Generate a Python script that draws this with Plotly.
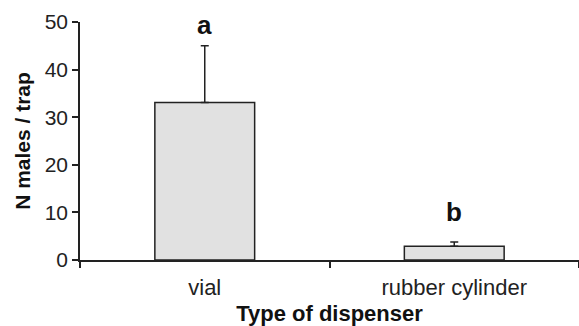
import plotly.graph_objects as go

categories = ["vial", "rubber cylinder"]
means = [33.1, 2.9]
errors_up = [11.9, 0.9]
letters = ["a", "b"]
letter_y = [49.4, 10.1]
y_ticks = [0, 10, 20, 30, 40, 50]

FONT = "Liberation Sans, Arial, sans-serif"
DARK = "#222222"

fig = go.Figure()
fig.add_trace(go.Bar(
    x=categories, y=means, width=0.4,
    marker=dict(color="#e1e1e1", line=dict(color=DARK, width=1.5)),
    error_y=dict(type="data", array=errors_up, arrayminus=[0, 0], symmetric=False,
                 color=DARK, thickness=1.5, width=4),
    showlegend=False,
))
for c, t, yy in zip(categories, letters, letter_y):
    fig.add_annotation(x=c, y=yy, text="<b>%s</b>" % t, showarrow=False,
                       font=dict(family=FONT, size=26, color="#111111"),
                       xanchor="center", yanchor="middle")

fig.update_layout(
    width=579, height=326,
    margin=dict(l=80, r=0, t=22, b=66),
    paper_bgcolor="white", plot_bgcolor="white",
    font=dict(family=FONT, color="#222222"),
    bargap=0.6,
)
fig.update_xaxes(
    type="category", range=[-0.5, 1.5], tickson="boundaries",
    ticks="outside", ticklen=6, tickwidth=1.5, tickcolor=DARK,
    showline=True, linecolor=DARK, linewidth=2,
    showgrid=False, zeroline=False, ticklabelstandoff=7,
    tickfont=dict(family=FONT, size=22, color="#222222"),
    title=dict(text="<b>Type of dispenser</b>", font=dict(family=FONT, size=22, color="#111111"), standoff=6),
)
fig.update_yaxes(
    range=[0, 50], tickvals=y_ticks,
    ticks="outside", ticklen=6, tickwidth=1.5, tickcolor=DARK,
    showline=True, linecolor=DARK, linewidth=1.5,
    showgrid=False, zeroline=False,
    tickfont=dict(family=FONT, size=21, color="#222222"),
    title=dict(text="<b>N males / trap</b>", font=dict(family=FONT, size=21, color="#111111"), standoff=8),
)
fig.write_html("out.html")
